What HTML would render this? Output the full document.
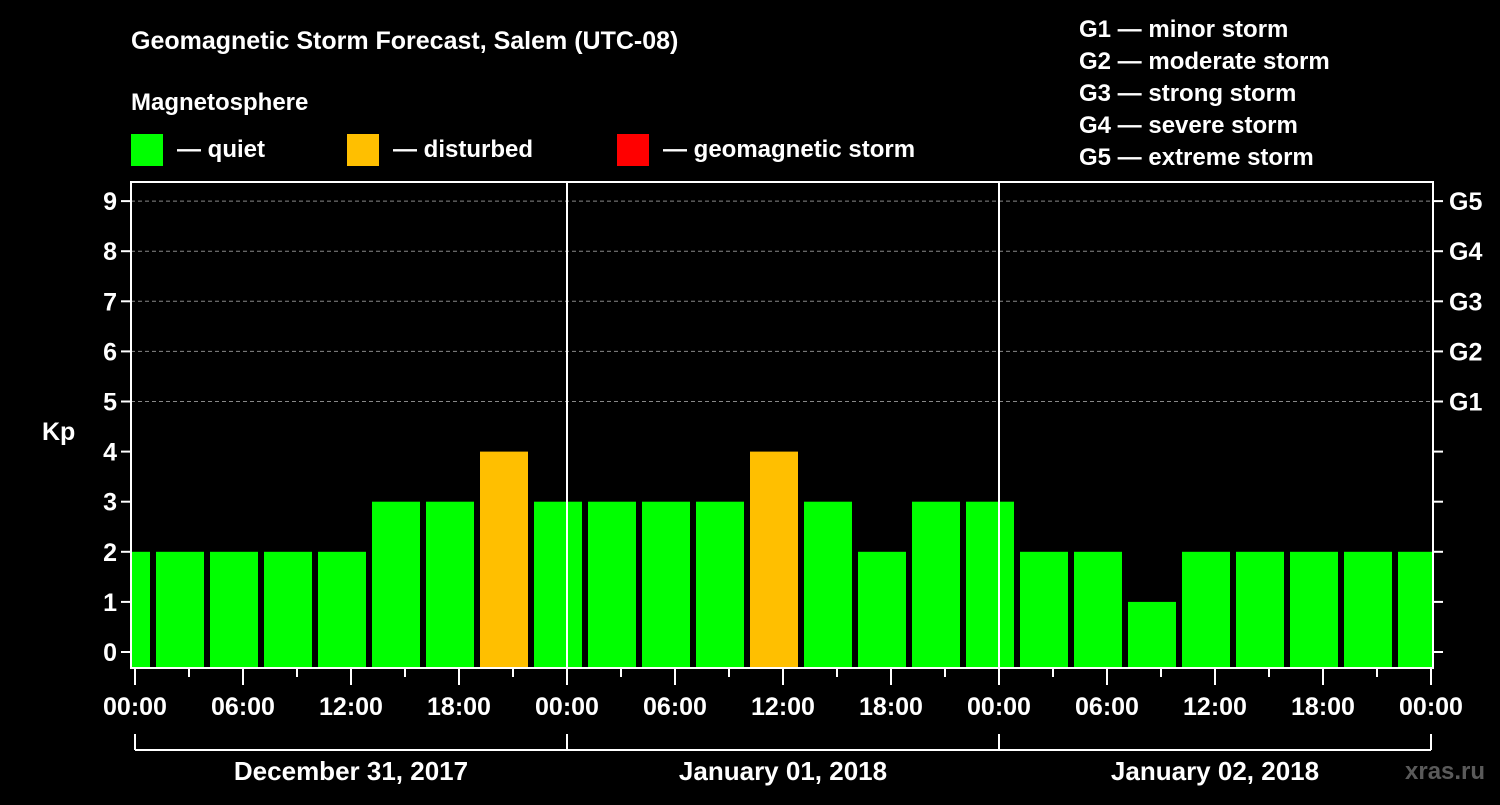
<!DOCTYPE html>
<html><head><meta charset="utf-8"><style>
body{margin:0;background:#000;width:1500px;height:800px;overflow:hidden}
svg text{font-family:"Liberation Sans",sans-serif;font-weight:bold;fill:#fff}
</style></head><body>
<svg id="c" width="1500" height="800">
<rect width="1500" height="800" fill="#000"/>
<text x="131" y="49" font-size="25">Geomagnetic Storm Forecast, Salem (UTC-08)</text>
<text x="131" y="110" font-size="24">Magnetosphere</text>
<g><rect x="131" y="134" width="32" height="32" fill="#00ff00"/><text x="177" y="157" font-size="24">— quiet</text></g>
<g><rect x="347" y="134" width="32" height="32" fill="#ffbf00"/><text x="393" y="157" font-size="24">— disturbed</text></g>
<g><rect x="617" y="134" width="32" height="32" fill="#ff0000"/><text x="663" y="157" font-size="24">— geomagnetic storm</text></g>
<g font-size="24">
<text x="1079" y="37">G1 — minor storm</text><text x="1079" y="69">G2 — moderate storm</text><text x="1079" y="101">G3 — strong storm</text><text x="1079" y="133">G4 — severe storm</text><text x="1079" y="165">G5 — extreme storm</text></g>
<text x="42" y="440" font-size="25">Kp</text>
<text x="1405" y="779" font-size="24" fill="#555" style="fill:#5a5a5a">xras.ru</text>
<g id="plot"></g>
</svg>
<script>
const kpValues=[2,2,2,2,2,3,3,4,3,3,3,3,4,3,2,3,3,2,2,1,2,2,2,2,2];
const kpTicks=[0,1,2,3,4,5,6,7,8,9];
const gLabels=["G1","G2","G3","G4","G5"];
const timeLabels=["00:00","06:00","12:00","18:00","00:00","06:00","12:00","18:00","00:00","06:00","12:00","18:00","00:00"];
const dayLabels=["December 31, 2017","January 01, 2018","January 02, 2018"];
const NS="http://www.w3.org/2000/svg";
const L=131,R=1433,T=182,B=668,X0=135,PXH=18;
const y=v=>652-50.1*v;
const x=h=>X0+h*PXH;
const g=document.getElementById('plot');
function mk(t,a,p){const e=document.createElementNS(NS,t);for(const k in a)e.setAttribute(k,a[k]);(p||g).appendChild(e);return e;}
const clip=mk('clipPath',{id:'pc'});mk('rect',{x:L+1,y:T,width:R-L-2,height:B-T},clip);
const bars=mk('g',{'clip-path':'url(#pc)'});
kpValues.forEach((v,i)=>{const cx=x(3*i-0.5);
const r=mk('rect',{x:cx-24,y:y(v),width:48,height:B-y(v),fill:v>=5?'#ff0000':v>=4?'#ffbf00':'#00ff00'},bars);

});
kpTicks.forEach(v=>{if(v>=5){const l=mk('line',{x1:L,x2:R,y1:y(v),y2:y(v),stroke:'#888','stroke-dasharray':'4,3'});}
mk('line',{x1:L-10,x2:L,y1:y(v),y2:y(v),stroke:'#fff','stroke-width':2});
mk('line',{x1:R,x2:R+10,y1:y(v),y2:y(v),stroke:'#fff','stroke-width':2});
const t=mk('text',{x:L-14,y:y(v)+9,'text-anchor':'end','font-size':25});t.textContent=v;

if(v>=5){const gt=mk('text',{x:R+16,y:y(v)+9,'font-size':25});gt.textContent=gLabels[v-5];
}});
const fr=mk('rect',{x:L,y:T,width:R-L,height:B-T,fill:'none',stroke:'#fff','stroke-width':2});

[24,48].forEach(h=>mk('line',{x1:x(h),x2:x(h),y1:T,y2:B,stroke:'#fff','stroke-width':2}));
for(let h=0;h<=72;h+=3){mk('line',{x1:x(h),x2:x(h),y1:B,y2:B+(h%6==0?17:9),stroke:'#fff','stroke-width':2});}
timeLabels.forEach((s,i)=>{const t=mk('text',{x:x(6*i),y:715,'text-anchor':'middle','font-size':25});t.textContent=s;
});
mk('line',{x1:x(0),x2:x(72),y1:750,y2:750,stroke:'#fff','stroke-width':2});
[0,24,48,72].forEach(h=>mk('line',{x1:x(h),x2:x(h),y1:734,y2:750,stroke:'#fff','stroke-width':2}));
dayLabels.forEach((s,i)=>{const t=mk('text',{x:x(24*i+12),y:780,'text-anchor':'middle','font-size':26});t.textContent=s;
});
</script>
</body></html>
